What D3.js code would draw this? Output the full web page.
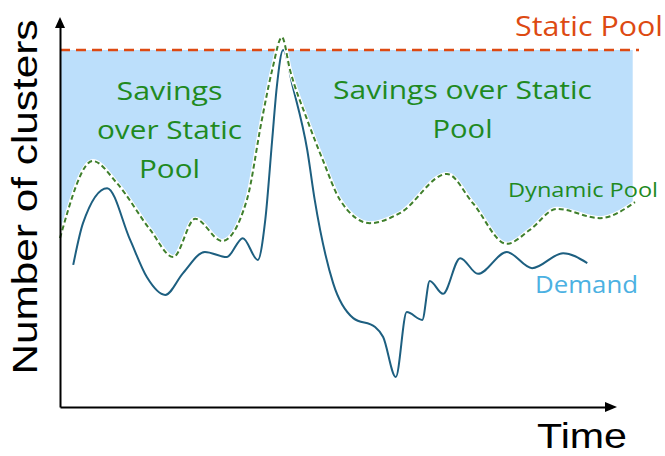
<!DOCTYPE html>
<html>
<head>
<meta charset="utf-8">
<script src="https://cdn.jsdelivr.net/npm/d3@7"></script>
<style>
  html, body { margin: 0; padding: 0; background: #fff; }
  svg { display: block; }
</style>
</head>
<body>
<svg id="chart" width="665" height="456"></svg>
<script>
// ---- Data (conceptual units: time 0..100, clusters 0..100) ----
const staticPoolValue = 100;

const dynamicTime  = [0, 5.7, 9.9, 15.7, 19.7, 23.5, 28.2, 32.5, 35.1, 36.9, 38.6, 40.0, 43.0, 45.7, 48.7, 53.9, 59.1, 67.3, 71.8, 77.7, 81.7, 86.4, 93.9, 100];
const dynamicValue = [47.3, 68.9, 62.7, 49.6, 42.0, 52.7, 46.5, 58.0, 80.4, 94.4, 103.6, 94.4, 80.4, 69.2, 58.0, 51.5, 54.3, 65.3, 57.1, 45.7, 49.6, 55.5, 52.9, 57.4];

const demandTime  = [2.3, 4.0, 8.2, 12.2, 15.1, 18.3, 21.4, 25.2, 29.0, 31.8, 34.4, 35.7, 36.9, 37.7, 38.8, 40.5, 43.0, 44.3, 47.5, 51.0, 54.8, 56.2, 58.4, 60.3, 63.0, 64.3, 66.6, 69.6, 72.7, 77.7, 82.1, 87.5, 91.7];
const demandValue = [39.8, 51.5, 61.3, 46.8, 36.4, 31.4, 37.5, 43.4, 42.0, 47.3, 41.2, 52.4, 74.8, 89.6, 100, 89.6, 72.0, 58.0, 34.7, 24.9, 22.4, 19.6, 8.4, 26.6, 24.4, 35.3, 31.7, 41.7, 37.3, 43.4, 38.9, 43.1, 40.3];

const savingsLeftLines  = ["Savings", "over Static", "Pool"];
const savingsRightLines = ["Savings over Static", "Pool"];
const staticLabel  = "Static Pool";
const dynamicLabel = "Dynamic Pool";
const demandLabel  = "Demand";
const xTitle = "Time";
const yTitle = "Number of clusters";

// ---- Layout ----
const svg = d3.select("#chart");
const x = d3.scaleLinear().domain([0, 100]).range([60, 635]);
const y = d3.scaleLinear().domain([0, 100]).range([407, 50]);

const dyn = dynamicTime.map((t, i) => ({t, v: dynamicValue[i]}));
const dem = demandTime.map((t, i) => ({t, v: demandValue[i]}));

// clip for savings fill (below static line)
svg.append("defs").append("clipPath").attr("id", "below")
  .append("rect").attr("x", x(0)).attr("y", y(staticPoolValue))
  .attr("width", x(99.6) - x(0)).attr("height", y(0) - y(staticPoolValue));

// Savings area
const area = d3.area().curve(d3.curveMonotoneX)
  .x(d => x(d.t)).y0(y(staticPoolValue)).y1(d => y(d.v));
svg.append("path").datum(dyn)
  .attr("d", area).attr("fill", "#bcdffb").attr("clip-path", "url(#below)");

// Static pool line
svg.append("line")
  .attr("x1", x(0)).attr("x2", x(100) + 4)
  .attr("y1", y(staticPoolValue)).attr("y2", y(staticPoolValue))
  .attr("stroke", "#dd4a12").attr("stroke-width", 2.5)
  .attr("stroke-dasharray", "10,6");

const line = d3.line().curve(d3.curveMonotoneX).x(d => x(d.t)).y(d => y(d.v));

// Demand line
svg.append("path").datum(dem).attr("d", line)
  .attr("fill", "none").attr("stroke", "#1d5f80").attr("stroke-width", 2);

// Dynamic pool: white halo + green dashes
svg.append("path").datum(dyn).attr("d", line)
  .attr("fill", "none").attr("stroke", "#fff").attr("stroke-width", 4);
svg.append("path").datum(dyn).attr("d", line)
  .attr("fill", "none").attr("stroke", "#3f7f2c").attr("stroke-width", 2)
  .attr("stroke-dasharray", "5,3");

// Axes (no ticks) with arrowheads
const xAx = d3.scaleLinear().domain([0, x.invert(612)]).range([x(0), 612]);
const yAx = d3.scaleLinear().domain([0, y.invert(22)]).range([y(0), 22]);
const gx = svg.append("g").attr("transform", `translate(0,${y(0)})`)
  .call(d3.axisBottom(xAx).ticks(0).tickSize(0).tickSizeOuter(0));
const gy = svg.append("g").attr("transform", `translate(${x(0)},0)`)
  .call(d3.axisLeft(yAx).ticks(0).tickSize(0).tickSizeOuter(0));
[gx, gy].forEach(g => g.select(".domain").attr("stroke", "#000").attr("stroke-width", 2));
svg.append("path")
  .attr("d", `M${x(0)},17 L${x(0) - 5},28 L${x(0) + 5},28 Z`).attr("fill", "#000");
svg.append("path")
  .attr("d", `M617,${y(0)} L605,${y(0) - 5} L605,${y(0) + 5} Z`).attr("fill", "#000");

// Text
const labelFont = "'Open Sans', 'Noto Sans', sans-serif";
function addText(txt, cx, by, size, color, len, anchor) {
  return svg.append("text").text(txt)
    .attr("x", cx).attr("y", by)
    .attr("text-anchor", anchor || "middle")
    .attr("font-family", labelFont).attr("font-size", size)
    .attr("fill", color)
    .attr("textLength", len).attr("lengthAdjust", "spacingAndGlyphs");
}
const green = "#1f8a1f";
const leftLens = [106, 145, 61];
savingsLeftLines.forEach((s, i) => addText(s, 169.5, 100 + i * 39, 25.5, green, leftLens[i]));
const rightLens = [259, 60];
savingsRightLines.forEach((s, i) => addText(s, 462.5, 99 + i * 39, 25.5, green, rightLens[i]));
addText(staticLabel, 589, 36, 28, "#dd4a12", 148);
addText(dynamicLabel, 583, 197, 20.5, green, 150);
addText(demandLabel, 586.5, 293, 24.5, "#4cb1e2", 103);

svg.append("text").text(xTitle)
  .attr("x", 582).attr("y", 448).attr("text-anchor", "middle")
  .attr("font-family", "'Liberation Sans', Arial, sans-serif").attr("font-size", 35)
  .attr("fill", "#000").attr("textLength", 90).attr("lengthAdjust", "spacingAndGlyphs");
svg.append("text").text(yTitle)
  .attr("transform", "translate(37,197) rotate(-90)").attr("text-anchor", "middle")
  .attr("font-family", "'Liberation Sans', Arial, sans-serif").attr("font-size", 35)
  .attr("fill", "#000").attr("textLength", 355).attr("lengthAdjust", "spacingAndGlyphs");
</script>
</body>
</html>
